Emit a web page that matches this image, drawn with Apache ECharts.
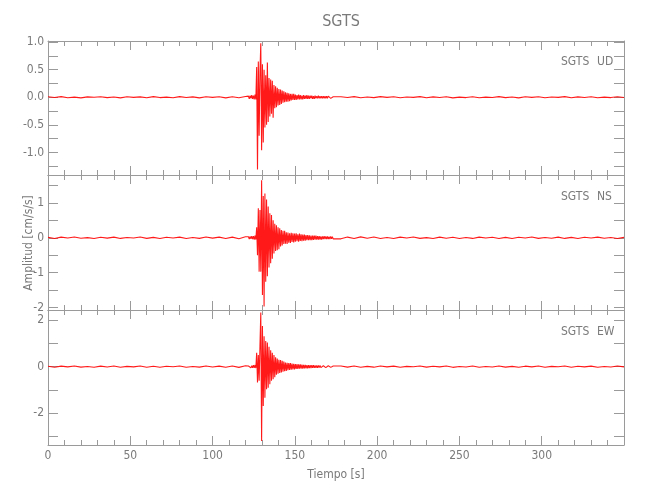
<!DOCTYPE html>
<html>
<head>
<meta charset="utf-8">
<script src="https://cdn.jsdelivr.net/npm/echarts@6/dist/echarts.min.js"></script>
<style>html,body{margin:0;padding:0;background:#fff}#c{width:650px;height:500px}</style>
</head>
<body>
<div id="c"></div>
<script>
// ---- data ----
const TITLE = 'SGTS';
const STATION = 'SGTS';
const COMPONENTS = ['UD', 'NS', 'EW'];
const X_TICK_LABELS = [0, 50, 100, 150, 200, 250, 300];

const PRE_T0 = 0, NOISE_DT = 4;       // pre-event noise samples: 0..120 s
const EVENT_T0 = 121.8, EVENT_DT = 0.5; // event samples: 121.8..173.3 s
const POST_T0 = 174;                  // post-event noise samples: 174..350 s

// UD component
const UD_PRE = [0.008,-0.004,0.012,-0.009,0.003,-0.011,0.006,0.000,0.010,-0.007,
                0.004,-0.012,0.009,-0.003,0.007,-0.010,0.011,-0.006,0.002,-0.009,
                0.012,-0.005,0.006,-0.011,0.008,-0.002,0.010,-0.012,0.009,-0.010,0.014];
const UD_EVENT = [0.02,-0.03,0.03,-0.02,0.04,-0.03,0.03,-0.04,0.05,-0.04,
                  0.55,-1.31,0.65,-0.7,0.45,0.98,-0.96,0.6,-0.82,0.5,
                  -0.55,0.4,-0.5,0.63,-0.45,0.35,-0.35,0.32,-0.3,0.3,
                  -0.37,0.22,-0.2,0.2,-0.18,0.17,-0.15,0.15,-0.14,0.14,
                  -0.12,0.12,-0.1,0.11,-0.09,0.09,-0.08,0.08,-0.08,0.07,
                  -0.07,0.06,-0.06,0.06,-0.05,0.06,-0.05,0.05,-0.05,0.04,
                  -0.04,0.05,-0.04,0.04,-0.04,0.03,-0.04,0.04,-0.03,0.03,
                  -0.03,0.04,-0.03,0.03,-0.03,0.03,-0.02,0.03,-0.03,0.02,
                  -0.03,0.03,-0.02,0.02,-0.02,0.03,-0.02,0.02,-0.02,0.02,
                  -0.02,0.02,-0.02,0.02,-0.02,0.02,-0.02,0.02,-0.01,0.02,
                  -0.02,0.01,-0.02,0.01];
const UD_POST = [-0.012,0.010,-0.006,0.011,-0.009,0.004,-0.007,0.012,-0.003,0.008,
                 -0.010,0.005,-0.002,0.011,-0.008,0.006,-0.004,0.010,-0.011,0.003,
                 -0.006,0.009,-0.010,0.002,-0.005,0.012,-0.007,0.004,-0.011,0.008,
                 -0.003,0.010,-0.008,0.005,-0.002,0.011,-0.009,0.006,-0.004,0.009,
                 -0.010,0.003,-0.006,0.010,-0.004];

// NS component
const NS_PRE = [0.012,-0.020,0.018,-0.008,0.022,-0.015,0.005,-0.021,0.016,-0.010,
                0.020,-0.018,0.009,-0.006,0.021,-0.017,0.011,-0.022,0.015,-0.004,
                0.019,-0.020,0.007,-0.016,0.022,-0.009,0.018,-0.021,0.020,-0.025,0.028];
const NS_EVENT = [0.03,-0.04,0.04,-0.03,0.05,-0.04,0.05,-0.05,0.06,-0.05,
                  0.3,-0.5,0.85,-0.97,0.8,-0.97,1.65,-1.64,1.2,-1.97,
                  1.27,-1.26,1.1,-1.1,0.9,-0.85,0.7,-0.73,0.65,-0.6,
                  0.5,-0.45,0.4,-0.38,0.36,-0.36,0.3,-0.33,0.27,-0.25,
                  0.22,-0.22,0.2,-0.18,0.2,-0.17,0.16,-0.18,0.15,-0.14,
                  0.13,-0.15,0.14,-0.12,0.13,-0.13,0.12,-0.11,0.13,-0.1,
                  0.1,-0.11,0.12,-0.09,0.1,-0.1,0.09,-0.08,0.09,-0.08,
                  0.08,-0.07,0.08,-0.07,0.07,-0.07,0.06,-0.07,0.06,-0.06,
                  0.06,-0.05,0.06,-0.05,0.05,-0.05,0.05,-0.05,0.04,-0.05,
                  0.04,-0.04,0.05,-0.04,0.04,-0.04,0.04,-0.04,0.03,-0.04,
                  0.04,-0.03,0.03,-0.03];
const NS_POST = [0.025,-0.030,0.020,-0.018,0.026,-0.012,0.022,-0.020,0.010,-0.022,
                 0.018,-0.008,0.021,-0.017,0.006,-0.020,0.019,-0.011,0.016,-0.021,
                 0.009,-0.018,0.020,-0.006,0.017,-0.019,0.012,-0.022,0.015,-0.007,
                 0.021,-0.016,0.008,-0.012,0.020,-0.018,0.011,-0.021,0.017,-0.005,
                 0.019,-0.015,0.010,-0.020,0.012];

// EW component
const EW_PRE = [0.018,-0.027,0.024,-0.010,0.028,-0.020,0.008,-0.026,0.022,-0.014,
                0.027,-0.024,0.012,-0.009,0.029,-0.022,0.015,-0.028,0.020,-0.006,
                0.025,-0.027,0.010,-0.021,0.028,-0.013,0.024,-0.029,0.026,-0.032,0.036];
const EW_EVENT = [0.03,-0.04,0.04,-0.05,0.04,-0.05,0.06,-0.05,0.07,-0.06,
                  0.6,-0.68,0.5,-0.6,0.9,2.32,-3.19,1.74,-1.69,1.3,
                  -1.33,1.1,-0.97,1.04,-0.9,0.85,-0.75,0.7,-0.6,0.6,
                  -0.54,0.5,-0.45,0.4,-0.35,0.35,-0.3,0.3,-0.27,0.28,
                  -0.25,0.25,-0.22,0.22,-0.2,0.18,-0.18,0.16,-0.15,0.15,
                  -0.14,0.15,-0.13,0.13,-0.12,0.12,-0.12,0.11,-0.1,0.11,
                  -0.1,0.1,-0.09,0.1,-0.08,0.09,-0.08,0.08,-0.07,0.08,
                  -0.07,0.07,-0.07,0.06,-0.06,0.07,-0.06,0.06,-0.05,0.06,
                  -0.05,0.05,-0.05,0.05,-0.05,0.05,-0.04,0.05,-0.04,0.04,
                  -0.04,0.04,-0.04,0.04,-0.04,0.04,-0.03,0.04,-0.03,0.03,
                  -0.03,0.03,-0.03,0.03];
const EW_POST = [-0.032,0.028,-0.020,0.030,-0.026,0.012,-0.022,0.029,-0.009,0.024,
                 -0.027,0.014,-0.006,0.028,-0.021,0.017,-0.011,0.026,-0.029,0.008,
                 -0.016,0.025,-0.027,0.006,-0.013,0.030,-0.019,0.011,-0.028,0.021,
                 -0.008,0.027,-0.022,0.013,-0.005,0.028,-0.024,0.016,-0.010,0.023,
                 -0.026,0.009,-0.015,0.025,-0.011];

// axis ranges and ticks per panel
const Y_RANGES = [[-1.41, 1.02], [-2.07, 1.80], [-3.36, 2.43]];
const Y_LABELS = [[-1.0, -0.5, 0.0, 0.5, 1.0], [-2, -1, 0, 1], [-2, 0, 2]];
const Y_TICKS = [[-1.25, -1.0, -0.75, -0.5, -0.25, 0, 0.25, 0.5, 0.75, 1.0],
                 [-2, -1.5, -1, -0.5, 0, 0.5, 1, 1.5],
                 [-3, -2, -1, 0, 1, 2]];
const X_MAX = 350;

// ---- build ----
function buildTrace(pre, ev, post) {
  const d = [];
  pre.forEach((v, k) => d.push([PRE_T0 + k * NOISE_DT, v]));
  ev.forEach((v, k) => d.push([EVENT_T0 + k * EVENT_DT, v]));
  post.forEach((v, k) => d.push([POST_T0 + k * NOISE_DT, v]));
  return d;
}
const TRACES = [buildTrace(UD_PRE, UD_EVENT, UD_POST),
                buildTrace(NS_PRE, NS_EVENT, NS_POST),
                buildTrace(EW_PRE, EW_EVENT, EW_POST)];

const FONT = '"DejaVu Sans Condensed", "Liberation Sans Narrow", "Liberation Sans", sans-serif';
const TXT = '#7a7a7a';
const AX = '#9a9a9a';

const grids = [
  {left: 48, right: 26, top: 41, height: 134},
  {left: 48, right: 26, top: 175, height: 135},
  {left: 48, right: 26, top: 310, height: 135}
];

const xAxes = [], yAxes = [], series = [];
for (let g = 0; g < 3; g++) {
  const common = {
    gridIndex: g, type: 'value', min: 0, max: X_MAX, interval: 50,
    splitLine: {show: false},
    axisLine: {show: true, onZero: false, lineStyle: {color: AX, width: 1}},
    axisTick: {show: true, inside: true, length: 9, lineStyle: {color: AX}},
    minorTick: {show: true, splitNumber: 5, length: 5, lineStyle: {color: AX}},
  };
  xAxes.push(Object.assign({}, common, {
    position: 'bottom',
    axisLabel: {show: g === 2, color: TXT, fontSize: 12, fontFamily: FONT, margin: 5,
      customValues: X_TICK_LABELS},
    name: g === 2 ? 'Tiempo [s]' : '',
    nameLocation: 'middle', nameGap: 24,
    nameTextStyle: {color: TXT, fontSize: 12, fontFamily: FONT}
  }));
  xAxes.push(Object.assign({}, common, {
    position: 'top', axisLabel: {show: false}
  }));
  const yCommon = {
    gridIndex: g, type: 'value', min: Y_RANGES[g][0], max: Y_RANGES[g][1],
    splitLine: {show: false},
    axisLine: {show: true, onZero: false, lineStyle: {color: AX, width: 1}},
    axisTick: {show: true, inside: true, length: 10, customValues: Y_TICKS[g], lineStyle: {color: AX}},
  };
  yAxes.push(Object.assign({}, yCommon, {
    position: 'left',
    axisLabel: {show: true, customValues: Y_LABELS[g], color: TXT, fontSize: 12, fontFamily: FONT, margin: 4,
      formatter: v => g === 0 ? Number(v).toFixed(1) : String(Math.round(v))}
  }));
  yAxes.push(Object.assign({}, yCommon, {
    position: 'right', axisLabel: {show: false}
  }));
  series.push({
    type: 'line', xAxisIndex: g * 2, yAxisIndex: g * 2,
    data: TRACES[g], showSymbol: false, symbol: 'none', sampling: null,
    lineStyle: {color: '#ff0000', width: 1.1, opacity: 0.9},
    silent: true, z: 1
  });
}

const graphics = [
  {type: 'text', x: 29, y: 243, rotation: Math.PI / 2,
   style: {text: 'Amplitud [cm/s/s]', fill: TXT, font: '12px ' + FONT, textAlign: 'center', textVerticalAlign: 'middle'}}
];
const labelY = [62, 197, 332];
COMPONENTS.forEach((c, g) => {
  graphics.push({type: 'text', x: 561, y: labelY[g],
    style: {text: STATION, fill: TXT, font: '12px ' + FONT, textAlign: 'left', textVerticalAlign: 'middle'}});
  graphics.push({type: 'text', x: 597, y: labelY[g],
    style: {text: c, fill: TXT, font: '12px ' + FONT, textAlign: 'left', textVerticalAlign: 'middle'}});
});

const chart = echarts.init(document.getElementById('c'), null, {renderer: 'canvas'});
chart.setOption({
  animation: false,
  backgroundColor: '#ffffff',
  title: {text: TITLE, left: 336, textAlign: 'center', top: 9,
    textStyle: {color: TXT, fontSize: 16, fontWeight: 'normal', fontFamily: FONT}},
  grid: grids,
  xAxis: xAxes,
  yAxis: yAxes,
  series: series,
  graphic: graphics
});
</script>
</body>
</html>
